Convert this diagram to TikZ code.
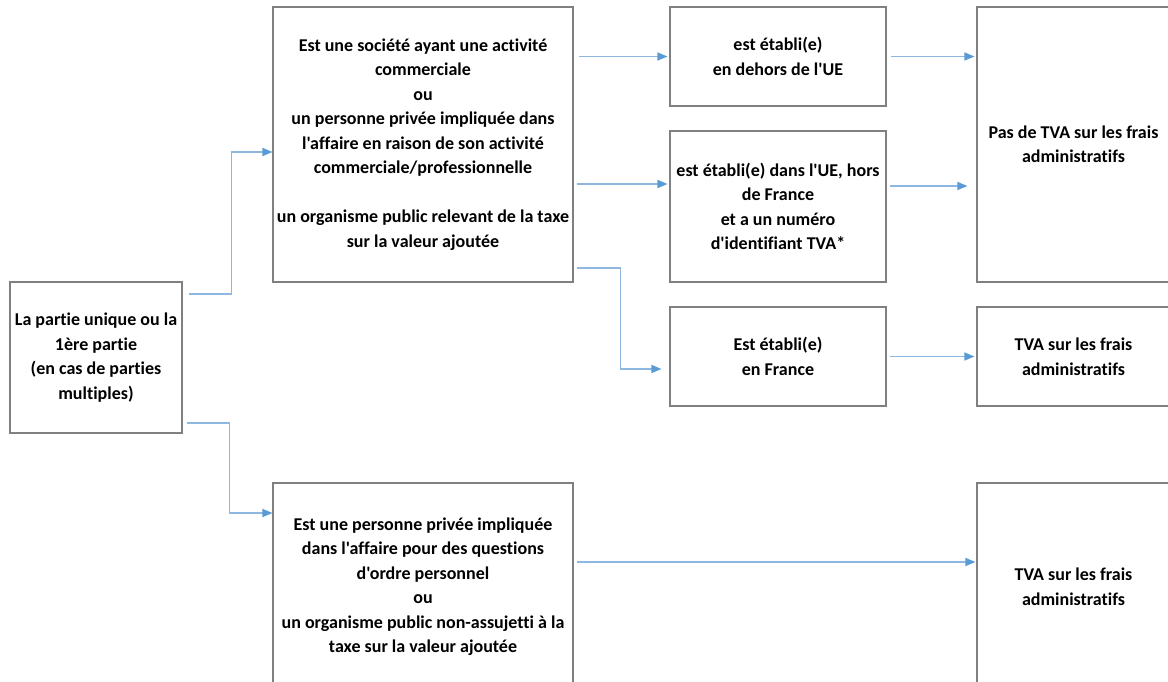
\documentclass[tikz,border=0pt]{standalone}
\usepackage{fontspec}
\setmainfont{Carlito}[Ligatures={TeXOff,NoCommon}]
\usepackage{xcolor}
\usetikzlibrary{arrows.meta, positioning}
\definecolor{boxgray}{HTML}{808080}
\definecolor{arrline}{HTML}{8FB8E0}
\definecolor{arrtip}{HTML}{5B9BD5}

\begin{document}
\begin{tikzpicture}[
  x=1pt, y=-1pt,
  font=\fontsize{18}{24.5}\selectfont\bfseries,
  every node/.style={align=center, inner sep=0pt},
  box/.style ={rectangle, draw=boxgray, line width=1.1pt, fill=white},
  arr/.style ={-{Triangle[length=10pt, width=8pt, color=arrtip]}, draw=arrline, line width=1.4pt}
]
% Page frame: boxes on the right and at the bottom run past it
\clip (0,0) rectangle (1168,682);
\fill[white] (0,0) rectangle (1168,682);

% Col 1 (x=10..182): the party
\node[box, minimum width=172pt, minimum height=151pt] (party) at (96,357.5) {La partie unique ou la\\1ère partie\\(en cas de parties\\multiples)};

% Col 2 (x=273..573): kind of party
\node[box, minimum width=300pt, minimum height=275pt] (business) at (423,144.5) {Est une société ayant une activité\\commerciale\\ou\\un personne privée impliquée dans\\l'affaire en raison de son activité\\commerciale/professionnelle\\[24.5pt]un organisme public relevant de la taxe\\sur la valeur ajoutée};
\node[box, minimum width=300pt, minimum height=207pt] (private) at (423,586.5) {Est une personne privée impliquée\\dans l'affaire pour des questions\\d'ordre personnel\\ou\\un organisme public non-assujetti à la\\taxe sur la valeur ajoutée};

% Col 3 (x=670..886): place of establishment
\node[box, minimum width=216pt, minimum height=99pt]  (outsideEU) at (778,56.5)  {est établi(e)\\en dehors de l'UE};
\node[box, minimum width=216pt, minimum height=151pt] (insideEU)  at (778,206.5) {est établi(e) dans l'UE, hors\\de France\\et a un numéro\\d'identifiant TVA*};
\node[box, minimum width=216pt, minimum height=99pt]  (france)    at (778,356.5) {Est établi(e)\\en France};

% Col 4 (x=977..): outcome
\node[box, minimum width=193pt, minimum height=275pt] (noVat)      at (1073.5,144.5) {Pas de TVA sur les frais\\administratifs};
\node[box, minimum width=193pt, minimum height=99pt]  (vat)        at (1073.5,356.5) {TVA sur les frais\\administratifs};
\node[box, minimum width=193pt, minimum height=207pt] (vatPrivate) at (1073.5,586.5) {TVA sur les frais\\administratifs};

% Edges
\draw[arr] ([xshift=6pt,yshift=63.5pt]party.east) -- ++(43,0) |- ([yshift=-7.5pt]business.west);
\draw[arr] ([xshift=4pt,yshift=-65.5pt]party.east) -- ++(43,0) |- ([yshift=73.5pt]private.west);
\draw[arr] ([xshift=5pt,yshift=88pt]business.east)     -- ([xshift=-2pt]outsideEU.west);
\draw[arr] ([xshift=3pt,yshift=-39.5pt]business.east)  -- ([xshift=-2pt,yshift=22.5pt]insideEU.west);
\draw[arr] ([xshift=3pt,yshift=-123.5pt]business.east) -- ++(44,0) |- ([xshift=-8pt,yshift=-12.5pt]france.west);
\draw[arr] ([xshift=4pt]outsideEU.east) -- ([xshift=-2pt,yshift=88pt]noVat.west);
\draw[arr] ([xshift=3pt,yshift=20.5pt]insideEU.east) -- ([xshift=-9pt,yshift=-41.5pt]noVat.west);
\draw[arr] ([xshift=3pt]france.east) -- ([xshift=-2pt]vat.west);
\draw[arr] ([xshift=3pt,yshift=24.5pt]private.east) -- ([xshift=-1pt,yshift=24.5pt]vatPrivate.west);
\end{tikzpicture}
\end{document}
